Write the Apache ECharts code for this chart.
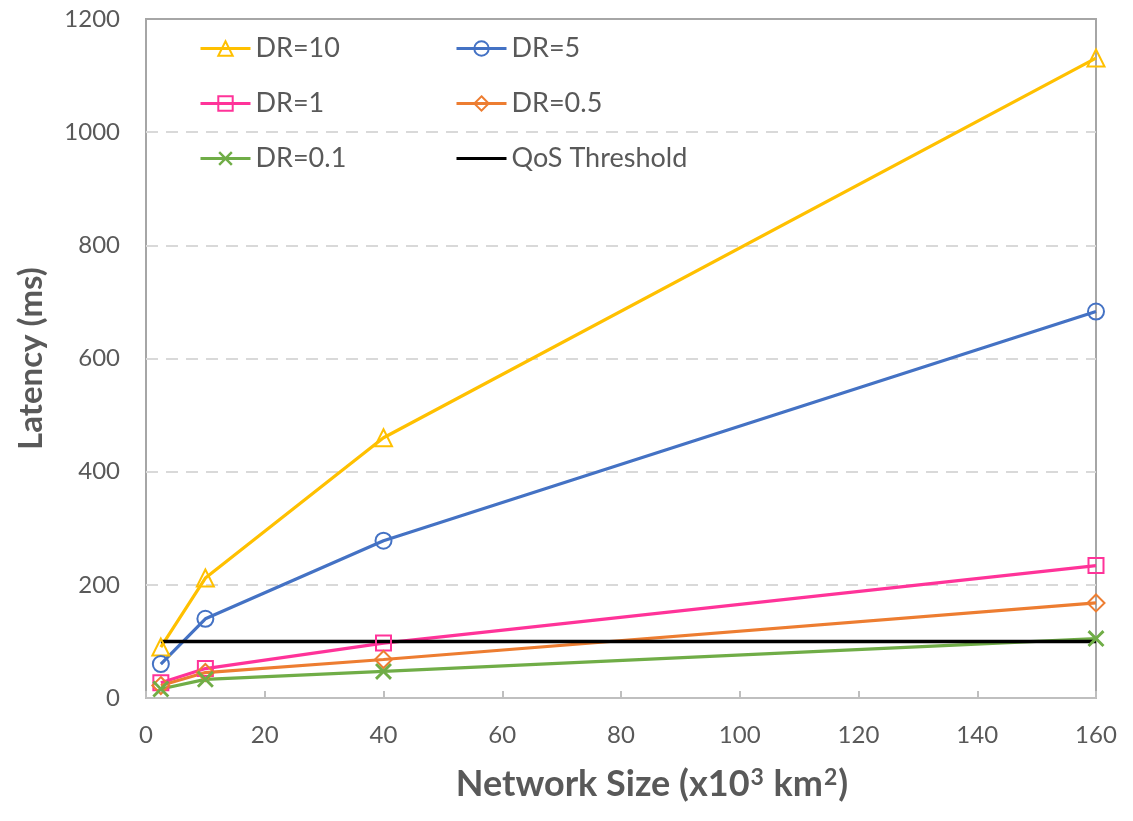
<!DOCTYPE html>
<html>
<head>
<meta charset="utf-8">
<script src="https://cdn.jsdelivr.net/npm/echarts@6/dist/echarts.min.js"></script>
<style>html,body{margin:0;padding:0;background:#fff}#c{width:1133px;height:821px}</style>
</head>
<body>
<div id="c"></div>
<script>
const networkSize = [2.5, 10, 40, 160];
const dr10 = [90, 212, 460, 1131];
const dr5 = [60, 140, 278, 683];
const dr1 = [27, 52, 97, 234];
const dr05 = [22, 45, 68, 168];
const dr01 = [16, 33, 47, 105];
const qosX = [2.5, 160];
const qosY = [100, 100];
const xTicks = [0, 20, 40, 60, 80, 100, 120, 140, 160];
const yTicks = [0, 200, 400, 600, 800, 1000, 1200];

const FONT = 'Lato, "Open Sans", sans-serif';
const TXT = '#595959';
const X_PATH = 'path://M0,1.2 L1.2,0 L5,3.8 L8.8,0 L10,1.2 L6.2,5 L10,8.8 L8.8,10 L5,6.2 L1.2,10 L0,8.8 L3.8,5 Z';
const LINE_ICON = 'path://M0,0 L50,0 L50,3 L0,3 Z';

function pairs(xs, ys) { return xs.map((x, i) => [x, ys[i]]); }

function mk(name, ys, color, symbol, size, filled) {
  return {
    name: name, type: 'line', data: pairs(networkSize, ys),
    symbol: symbol, symbolSize: size,
    lineStyle: { color: color, width: 3.2 },
    itemStyle: filled ? { color: color, borderWidth: 0 } : { color: 'rgba(255,255,255,0)', borderColor: color, borderWidth: 2 },
    emphasis: { disabled: true }
  };
}

const series = [
  mk('DR=10', dr10, '#FFC000', 'triangle', 17, false),
  mk('DR=5', dr5, '#4472C4', 'circle', 16, false),
  mk('DR=1', dr1, '#FF3399', 'rect', 15, false),
  mk('DR=0.5', dr05, '#ED7D31', 'diamond', 17, false),
  mk('DR=0.1', dr01, '#70AD47', X_PATH, 17, true),
  { name: 'QoS Threshold', type: 'line', data: pairs(qosX, qosY), symbol: 'none',
    lineStyle: { color: '#000', width: 3.5 }, itemStyle: { color: '#000' }, emphasis: { disabled: true } }
];

const legendBase = {
  orient: 'vertical', top: 30, itemWidth: 50, itemHeight: 18, itemGap: 28, itemTextGap: 9,
  lineStyle: { width: 3 },
  textStyle: { fontFamily: FONT, fontSize: 27, color: TXT, lineHeight: 27 }
};

const chart = echarts.init(document.getElementById('c'));
chart.setOption({
  animation: false,
  backgroundColor: '#fff',
  grid: { left: 146, right: 37, top: 19, bottom: 123, show: true, borderColor: '#a6a6a6', borderWidth: 2, containLabel: false },
  legend: [
    Object.assign({}, legendBase, { left: 194, data: ['DR=10', 'DR=1', 'DR=0.1'] }),
    Object.assign({}, legendBase, { left: 450, data: ['DR=5', 'DR=0.5', { name: 'QoS Threshold', icon: LINE_ICON, itemStyle: { color: '#000' } }] })
  ],
  xAxis: {
    type: 'value', min: xTicks[0], max: xTicks[xTicks.length - 1], interval: 20,
    name: 'Network Size (x10{s|3} km{s|2})', nameLocation: 'middle', nameGap: 68,
    nameTextStyle: { fontFamily: FONT, fontSize: 36, fontWeight: 'bold', color: TXT, padding: [0, 0, 0, 62],
      rich: { s: { fontFamily: FONT, fontSize: 23, fontWeight: 'bold', color: TXT, verticalAlign: 'top', lineHeight: 23, padding: [0, 1, 15, 1] } } },
    axisLine: { show: true, lineStyle: { color: '#bfbfbf', width: 2 } },
    axisTick: { show: true, inside: true, length: 7, lineStyle: { color: '#bfbfbf', width: 2 } },
    axisLabel: { fontFamily: FONT, fontSize: 24, color: TXT, margin: 25 },
    splitLine: { show: false }
  },
  yAxis: {
    type: 'value', min: yTicks[0], max: yTicks[yTicks.length - 1], interval: 200,
    name: 'Latency (ms)', nameLocation: 'middle', nameGap: 98,
    nameTextStyle: { fontFamily: FONT, fontSize: 33, fontWeight: 'bold', color: TXT },
    axisLine: { show: false }, axisTick: { show: false },
    axisLabel: { fontFamily: FONT, fontSize: 24, color: TXT, margin: 26, formatter: v => String(v) },
    splitLine: { show: true, showMinLine: false, showMaxLine: false, lineStyle: { color: '#d9d9d9', width: 2, type: [12, 8] } }
  },
  series: series
});
</script>
</body>
</html>
